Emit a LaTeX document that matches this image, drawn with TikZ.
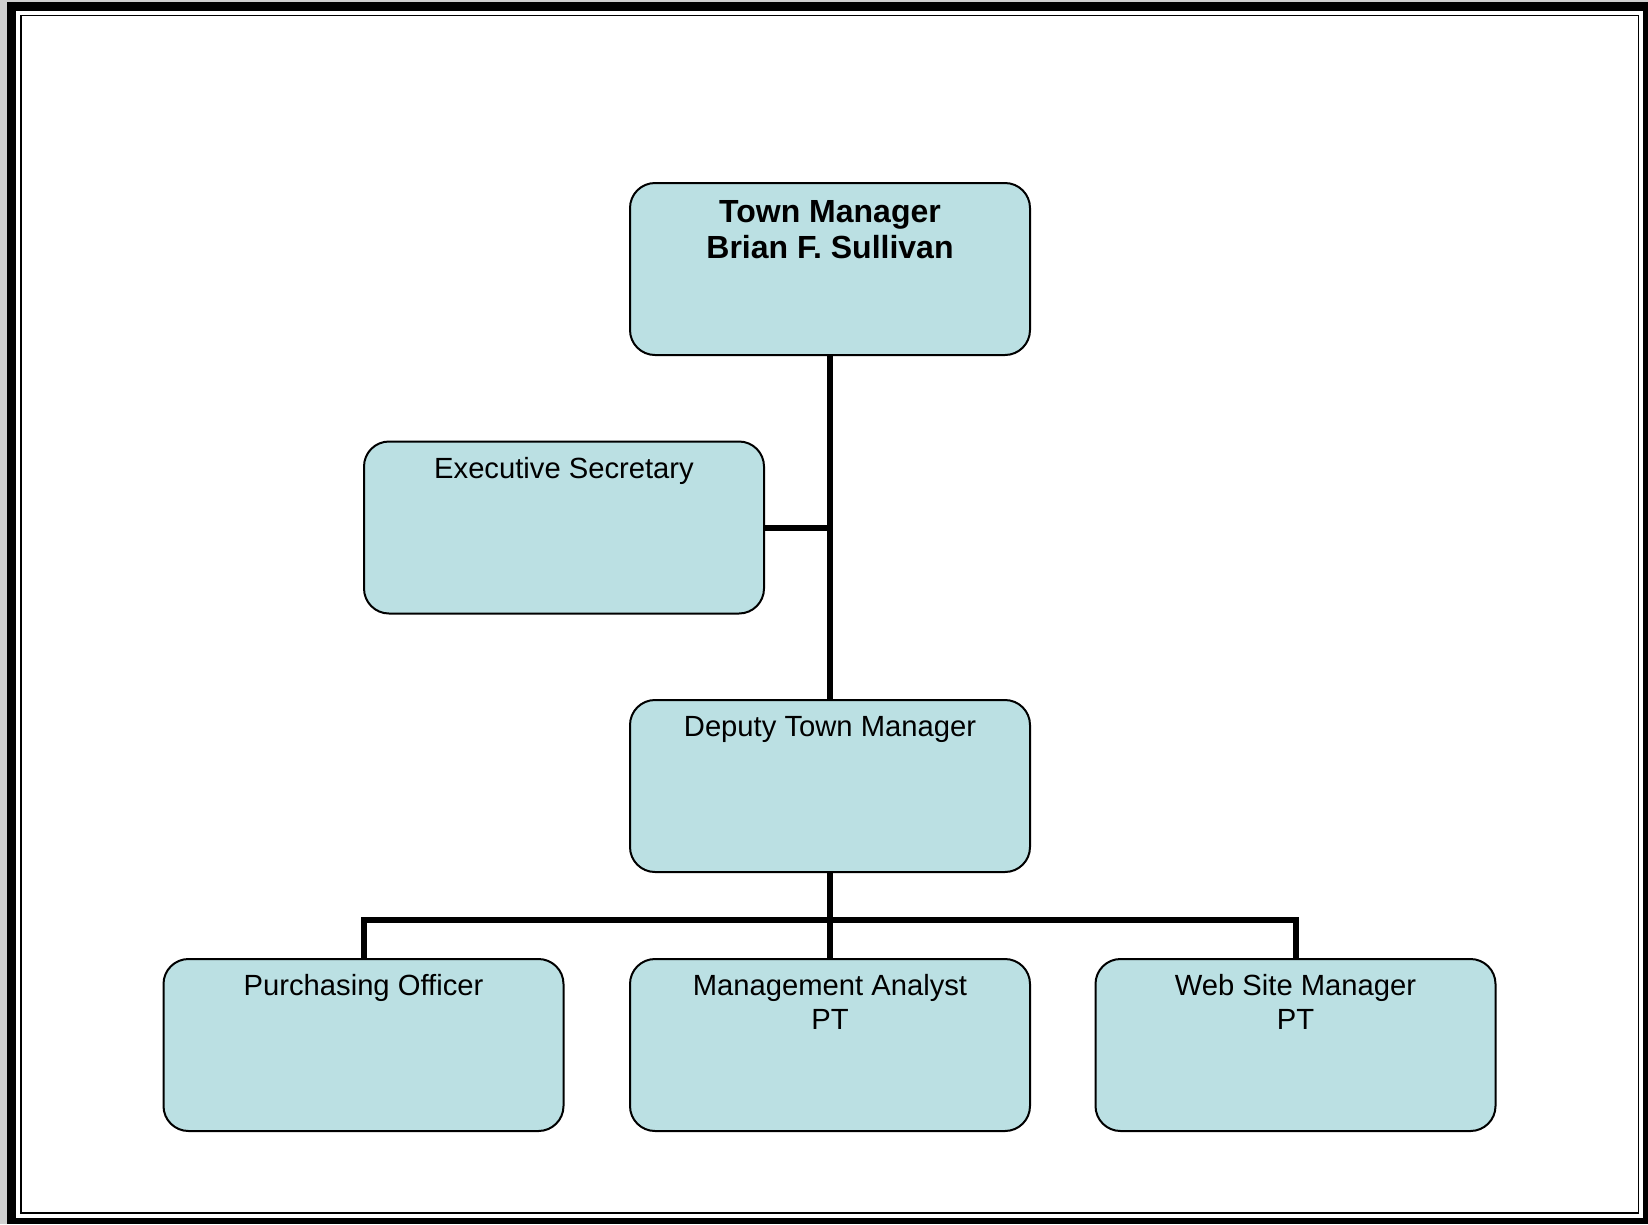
\documentclass[tikz,border=0pt]{standalone}
\usepackage{fontspec}
\setmainfont{Liberation Sans}
\definecolor{boxfill}{RGB}{187,224,227}
\definecolor{edgegray}{RGB}{207,207,207}
\tikzset{
  orgbox/.style={shape=rectangle, draw=black, line width=2pt, fill=boxfill,
    rounded corners=25pt, minimum width=400pt, minimum height=172pt, inner sep=0pt},
  lbl/.style={anchor=base, inner sep=0pt, font=\fontsize{29.2}{33.5}\selectfont},
  blbl/.style={anchor=base, inner sep=0pt, font=\fontsize{32}{36}\selectfont\bfseries},
  conn/.style={line width=6pt, line join=miter}
}
\begin{document}
\begin{tikzpicture}[x=1pt, y=-1pt]
  \useasboundingbox (0,0) rectangle (1648,1224);
  % page frame
  \fill[edgegray] (0,0) rectangle (1648,1224);
  \fill[black] (7,2) rectangle (1648,1224);
  \fill[white] (16,11) rectangle (1643,1218);
  \draw[line width=1.5pt] (21,15.7) rectangle (1638.3,1213.2);

  % boxes
  \node[orgbox] (tm)  at (830,269)    {};
  \node[orgbox] (es)  at (564,527.5)  {};
  \node[orgbox] (dtm) at (830,786)    {};
  \node[orgbox] (po)  at (363.5,1045) {};
  \node[orgbox] (ma)  at (830,1045)   {};
  \node[orgbox] (wsm) at (1295.5,1045){};

  % labels
  \node[blbl] (tmt) at ([yshift=-40.5pt]tm.north)
    {\begin{tabular}[t]{@{}c@{}}Town Manager\\Brian F. Sullivan\end{tabular}};
  \node[lbl] (est) at ([yshift=-37.5pt]es.north) {Executive Secretary};
  \node[lbl] (dtmt) at ([yshift=-37.5pt]dtm.north) {Deputy Town Manager};
  \node[lbl] (pot) at ([yshift=-37.5pt]po.north) {Purchasing Officer};
  \node[lbl] (mat) at ([yshift=-37.5pt]ma.north)
    {\begin{tabular}[t]{@{}c@{}}Management Analyst\\PT\end{tabular}};
  \node[lbl] (wsmt) at ([yshift=-37.5pt]wsm.north)
    {\begin{tabular}[t]{@{}c@{}}Web Site Manager\\PT\end{tabular}};

  % connectors
  \coordinate (bus) at (830,919.5);
  \draw[conn] (tm.south) -- (dtm.north);
  \draw[conn] (es.east) -- (es.east -| tm.south);
  \draw[conn] (dtm.south) -- (ma.north);
  \draw[conn] (po.north) |- (wsm.north |- bus) -- (wsm.north);
\end{tikzpicture}
\end{document}
